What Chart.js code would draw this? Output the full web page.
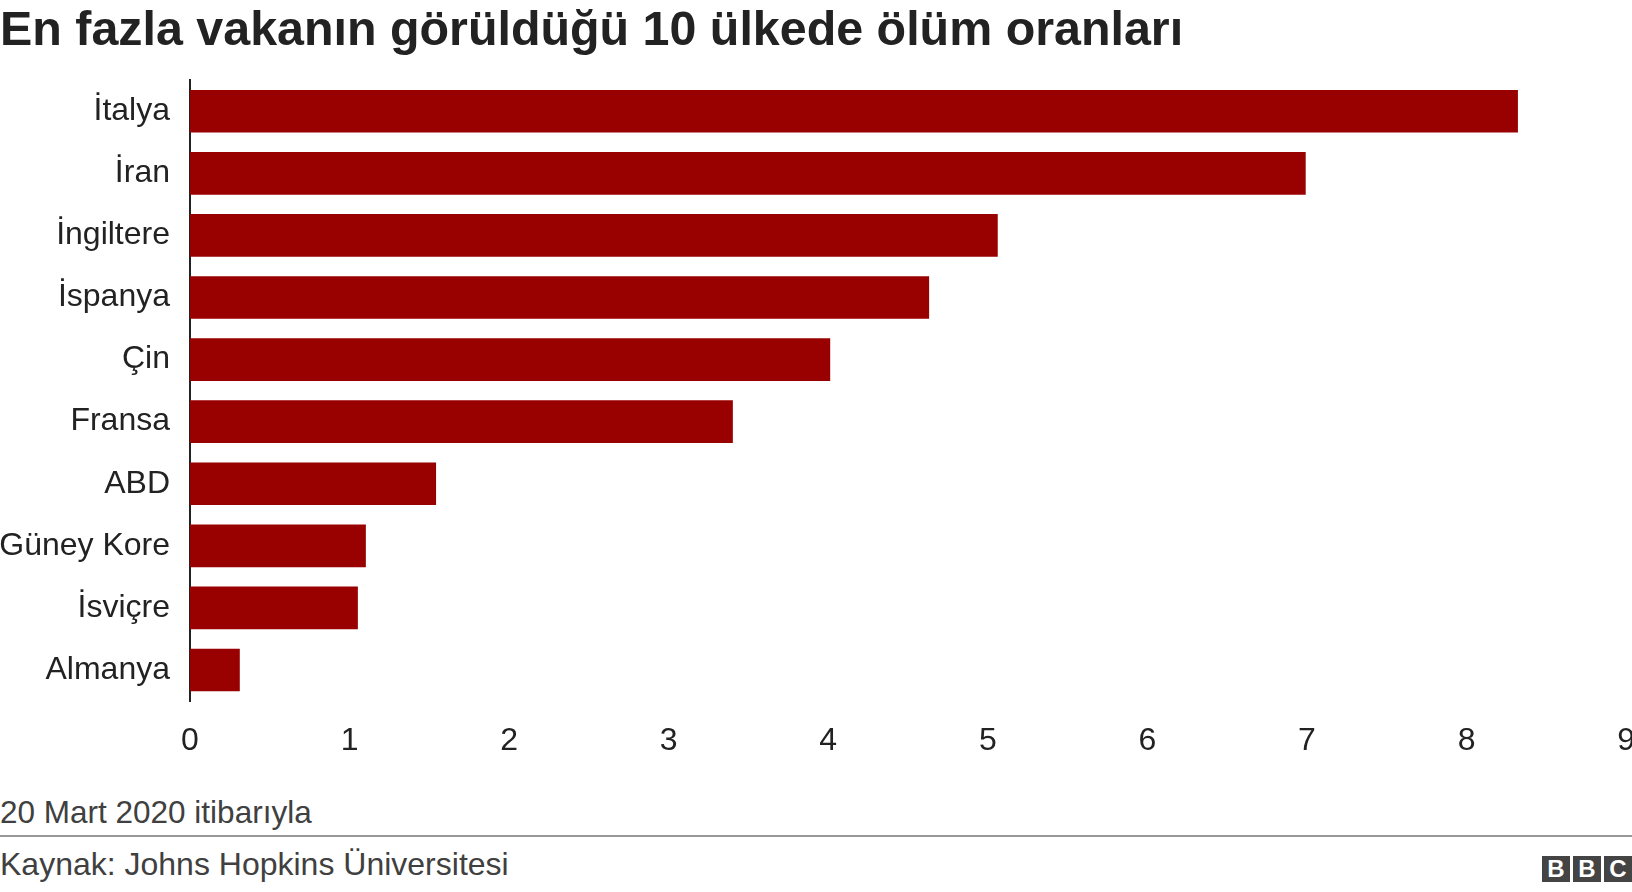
<!DOCTYPE html>
<html>
<head>
<meta charset="utf-8">
<script src="https://cdn.jsdelivr.net/npm/chart.js@4"></script>
<style>
  body { margin: 0; background: #fff; font-family: 'Liberation Sans', Arial, sans-serif; overflow: hidden; }
  #title { position: absolute; left: 0; top: 0px; font-size: 48.4px; font-weight: bold; color: #222; white-space: nowrap; }
  #wrap { position: absolute; left: 0; top: 49px; width: 1648px; height: 727px; }
  #note { position: absolute; left: 0; top: 794px; font-size: 31.5px; color: #404040; }
  #rule { position: absolute; left: 0; top: 835px; width: 1632px; height: 2px; background: #999; }
  #src { position: absolute; left: 0; top: 846px; font-size: 32px; color: #404040; }
  #logo { position: absolute; left: 1542px; top: 856px; display: flex; gap: 3px; }
  #logo span { width: 28px; height: 26px; background: #444; color: #fff; font-weight: bold; font-size: 24px; text-align: center; line-height: 26px; }
</style>
</head>
<body>
<div id="title">En fazla vakanın görüldüğü 10 ülkede ölüm oranları</div>
<div id="wrap"><canvas id="deathChart"></canvas></div>
<div id="note">20 Mart 2020 itibarıyla</div>
<div id="rule"></div>
<div id="src">Kaynak: Johns Hopkins Üniversitesi</div>
<div id="logo"><span>B</span><span>B</span><span>C</span></div>
<script>
// Veriler
const countries = ['İtalya', 'İran', 'İngiltere', 'İspanya', 'Çin', 'Fransa', 'ABD', 'Güney Kore', 'İsviçre', 'Almanya'];
const deathRates = [8.32, 6.99, 5.06, 4.63, 4.01, 3.40, 1.54, 1.10, 1.05, 0.31];
const xTicks = [0, 1, 2, 3, 4, 5, 6, 7, 8, 9];

const font = { family: "'Liberation Sans', Arial, sans-serif", size: 32 };

new Chart(document.getElementById('deathChart'), {
    type: 'bar',
    data: {
        labels: countries,
        datasets: [{
            data: deathRates,
            backgroundColor: '#990000',
            barThickness: 42
        }]
    },
    options: {
        indexAxis: 'y',
        responsive: true,
        maintainAspectRatio: false,
        animation: false,
        layout: { padding: { right: 8, top: 14 } },
        plugins: { legend: { display: false }, tooltip: { enabled: false } },
        scales: {
            x: {
                min: 0,
                max: 9,
                afterBuildTicks: scale => { scale.ticks = xTicks.map(v => ({ value: v })); },
                afterFit: scale => { scale.height = 75; },
                grid: { display: false },
                border: { display: false },
                ticks: { font: font, color: '#222', padding: 13, maxRotation: 0 }
            },
            y: {
                afterFit: scale => { scale.width = 190; },
                grid: { display: false },
                border: { display: true, color: '#222', width: 2 },
                ticks: { font: font, color: '#222', padding: 12 }
            }
        }
    }
});
</script>
</body>
</html>
